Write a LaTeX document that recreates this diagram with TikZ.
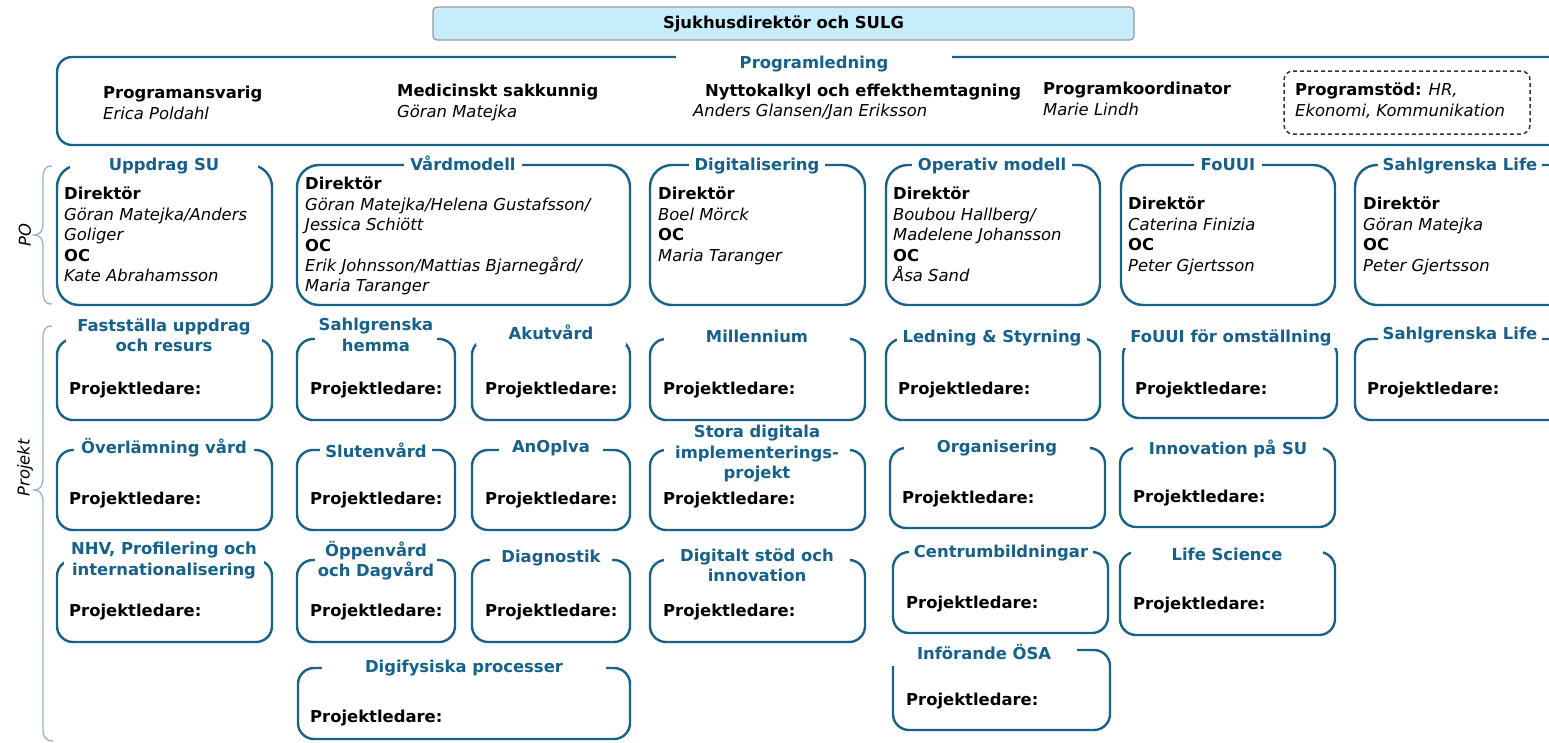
\documentclass[tikz,border=0pt]{standalone}
\usepackage{fontspec}
\setmainfont{DejaVu Sans}
\definecolor{bblue}{RGB}{24,98,138}
\definecolor{tblue}{RGB}{22,96,140}
\definecolor{sky}{RGB}{199,236,251}
\definecolor{brc}{RGB}{150,176,206}
\newcommand\mybox[6]{%
  \node[#2, minimum width={(#5-#3)*1pt}, minimum height={(#6-#4)*1pt}] (#1) at ({(#3+#5)/2},{(#4+#6)/2}) {};}
\begin{document}
\begin{tikzpicture}[x=1pt,y=-1pt,
  every node/.style={font=\fontsize{16.4}{20.4}\selectfont, inner sep=0pt},
  box/.style={draw=bblue, line width=2.4pt, rounded corners=16pt},
  pobox/.style={box, rounded corners=22pt},
  ttl/.style={fill=white, text=tblue, font=\fontsize{16.4}{20.4}\selectfont\bfseries, align=center, inner xsep=5pt, inner ysep=0pt, execute at begin node=\strut, execute at end node=\strut},
  txt/.style={anchor=north west, align=left, execute at begin node=\strut},
  lbl/.style={font=\fontsize{16.4}{20.4}\selectfont\bfseries, anchor=base west},
  brace/.style={draw=brc, line width=1.3pt},
  side/.style={rotate=90, font=\fontsize{16.4}{20.4}\selectfont\itshape},
]
\clip (0,0) rectangle (1549,742);
% top box
\node[draw=black!40, fill=sky, rounded corners=4pt, line width=1.2pt, minimum width=701pt, minimum height=33pt, font=\fontsize{16.4}{20.4}\selectfont\bfseries] (top) at (783.5,23.5) {Sjukhusdirektör och SULG};
% Programledning
\mybox{pl}{box, rounded corners=15pt}{57}{57}{1580}{145}
\node[ttl, minimum width=276pt] (t-pl) at (814,64) {Programledning};
\node[txt] (pa) at (103,86) {\textbf{Programansvarig}\\\textit{Erica Poldahl}};
\node[txt] (ms) at (397,84) {\textbf{Medicinskt sakkunnig}\\\textit{Göran Matejka}};
\node[txt] (nk) at (705,82) {\textbf{Nyttokalkyl och effekthemtagning}};
\node[txt] (nk2) at (693,102) {\textit{Anders Glansen/Jan Eriksson}};
\node[txt] (pk) at (1043,82) {\textbf{Programkoordinator}\\\textit{Marie Lindh}};
\mybox{ps}{draw=black!80, line width=1.5pt, dash pattern=on 4pt off 3pt, rounded corners=9pt}{1284}{71}{1530}{134}
\node[txt] (pst) at (1295,83) {\textbf{Programstöd:} \textit{HR,}\\\textit{Ekonomi, Kommunikation}};

% braces and side labels
\draw[brace] (52,166) .. controls (45,166) and (43,170) .. (43,178) -- (43,224) .. controls (43,231) and (40,235) .. (34,235) .. controls (40,235) and (43,239) .. (43,246) -- (43,292) .. controls (43,300) and (45,304) .. (52,304);
\draw[brace] (52,326) .. controls (45,326) and (43,330) .. (43,338) -- (43,478) .. controls (43,486) and (40,490) .. (34,490) .. controls (40,490) and (43,494) .. (43,502) -- (43,730) .. controls (43,737) and (46,741) .. (53,741);
\node[side] (lpo) at (25,235) {PO};
\node[side] (lpr) at (25,468) {Projekt};

% PO row
\mybox{po1}{pobox}{57}{165}{272}{305}
\node[ttl, minimum width=188pt] (t-po1) at (164,166) {Uppdrag SU};
\node[txt] (b-po1) at (64,187) {\textbf{Direktör}\\\textit{Göran Matejka/Anders}\\\textit{Goliger}\\\textbf{OC}\\\textit{Kate Abrahamsson}};

\mybox{po2}{pobox}{297}{165}{630}{305}
\node[ttl, inner xsep=6pt] (t-po2) at (463,166) {Vårdmodell};
\node[txt] (b-po2) at (305,177) {\textbf{Direktör}\\\textit{Göran Matejka/Helena Gustafsson/}\\\textit{Jessica Schiött}\\\textbf{OC}\\\textit{Erik Johnsson/Mattias Bjarnegård/}\\\textit{Maria Taranger}};

\mybox{po3}{pobox}{650}{165}{865}{305}
\node[ttl, inner xsep=6pt] (t-po3) at (757,166) {Digitalisering};
\node[txt] (b-po3) at (658,187) {\textbf{Direktör}\\\textit{Boel Mörck}\\\textbf{OC}\\\textit{Maria Taranger}};

\mybox{po4}{pobox}{886}{165}{1100}{305}
\node[ttl, inner xsep=6pt] (t-po4) at (992,166) {Operativ modell};
\node[txt] (b-po4) at (893,187) {\textbf{Direktör}\\\textit{Boubou Hallberg/}\\\textit{Madelene Johansson}\\\textbf{OC}\\\textit{Åsa Sand}};

\mybox{po5}{pobox}{1121}{165}{1335}{305}
\node[ttl, inner xsep=7pt] (t-po5) at (1228,166) {FoUUI};
\node[txt] (b-po5) at (1128,197) {\textbf{Direktör}\\\textit{Caterina Finizia}\\\textbf{OC}\\\textit{Peter Gjertsson}};

\mybox{po6}{pobox}{1355}{165}{1590}{305}
\node[ttl, inner xsep=5pt] (t-po6) at (1460,166) {Sahlgrenska Life};
\node[txt] (b-po6) at (1363,197) {\textbf{Direktör}\\\textit{Göran Matejka}\\\textbf{OC}\\\textit{Peter Gjertsson}};

% Project row 1
\mybox{a1}{box}{57}{339}{272}{420}
\node[ttl, minimum width=196pt] (t-a1) at (164,338) {Fastställa uppdrag\\och resurs};
\node[lbl] (p-a1) at (69,394) {Projektledare:};

\mybox{b1}{box}{297}{339}{455}{420}
\node[ttl, inner xsep=4pt] (t-b1) at (376,338) {Sahlgrenska\\hemma};
\node[lbl] (p-b1) at (310,394) {Projektledare:};

\mybox{b2}{box}{472}{339}{630}{420}
\node[ttl, minimum width=150pt] (t-b2) at (551,335) {Akutvård};
\node[lbl] (p-b2) at (485,394) {Projektledare:};

\mybox{c1}{box}{650}{339}{865}{420}
\node[ttl, minimum width=186pt] (t-c1) at (757,338) {Millennium};
\node[lbl] (p-c1) at (663,394) {Projektledare:};

\mybox{d1}{box}{886}{339}{1100}{420}
\node[ttl, inner xsep=6pt] (t-d1) at (992,338) {Ledning \& Styrning};
\node[lbl] (p-d1) at (898,394) {Projektledare:};

\mybox{e1}{box}{1123}{339}{1337}{418}
\node[ttl, minimum width=216pt] (t-e1) at (1231,338) {FoUUI för omställning};
\node[lbl] (p-e1) at (1135,394) {Projektledare:};

\mybox{f1}{box}{1355}{339}{1590}{420}
\node[ttl, inner xsep=5pt] (t-f1) at (1460,335) {Sahlgrenska Life};
\node[lbl] (p-f1) at (1367,394) {Projektledare:};

% Project row 2
\mybox{a2}{box}{57}{450}{272}{530}
\node[ttl, minimum width=180pt] (t-a2) at (164,449) {Överlämning vård};
\node[lbl] (p-a2) at (69,504) {Projektledare:};

\mybox{b3}{box}{297}{450}{455}{530}
\node[ttl, inner xsep=5pt] (t-b3) at (376,453) {Slutenvård};
\node[lbl] (p-b3) at (310,504) {Projektledare:};

\mybox{b4}{box}{472}{450}{630}{530}
\node[ttl, minimum width=104pt] (t-b4) at (551,448) {AnOpIva};
\node[lbl] (p-b4) at (485,504) {Projektledare:};

\mybox{c2}{box}{650}{450}{865}{530}
\node[ttl, minimum width=186pt] (t-c2) at (757,455) {Stora digitala\\implementerings-\\projekt};
\node[lbl] (p-c2) at (663,504) {Projektledare:};

\mybox{d2}{box}{890}{448}{1105}{528}
\node[ttl, minimum width=186pt] (t-d2) at (997,448) {Organisering};
\node[lbl] (p-d2) at (902,503) {Projektledare:};

\mybox{e2}{box}{1120}{448}{1335}{527}
\node[ttl, minimum width=190pt] (t-e2) at (1228,450) {Innovation på SU};
\node[lbl] (p-e2) at (1133,502) {Projektledare:};

% Project row 3
\mybox{a3}{box}{57}{560}{272}{642}
\node[ttl, minimum width=200pt] (t-a3) at (164,562) {NHV, Profilering och\\internationalisering};
\node[lbl] (p-a3) at (69,616) {Projektledare:};

\mybox{b5}{box}{297}{560}{455}{642}
\node[ttl, inner xsep=3pt] (t-b5) at (376,562) {Öppenvård\\och Dagvård};
\node[lbl] (p-b5) at (310,616) {Projektledare:};

\mybox{b6}{box}{472}{560}{630}{642}
\node[ttl, minimum width=122pt] (t-b6) at (551,558) {Diagnostik};
\node[lbl] (p-b6) at (485,616) {Projektledare:};

\mybox{c3}{box}{650}{560}{865}{642}
\node[ttl, minimum width=186pt] (t-c3) at (757,568) {Digitalt stöd och\\innovation};
\node[lbl] (p-c3) at (663,616) {Projektledare:};

\mybox{d3}{box}{893}{552}{1108}{633}
\node[ttl, inner xsep=5pt] (t-d3) at (1001,553) {Centrumbildningar};
\node[lbl] (p-d3) at (906,608) {Projektledare:};

\mybox{e3}{box}{1120}{552}{1335}{635}
\node[ttl, minimum width=192pt] (t-e3) at (1227,556) {Life Science};
\node[lbl] (p-e3) at (1133,609) {Projektledare:};

% Project row 4
\mybox{b7}{box}{298}{668}{630}{739}
\node[ttl, minimum width=284pt] (t-b7) at (464,668) {Digifysiska processer};
\node[lbl] (p-b7) at (310,722) {Projektledare:};

\mybox{d4}{box}{893}{650}{1110}{730}
\node[ttl, minimum width=186pt] (t-d4) at (984,655) {Införande ÖSA};
\node[lbl] (p-d4) at (906,705) {Projektledare:};
\end{tikzpicture}
\end{document}
